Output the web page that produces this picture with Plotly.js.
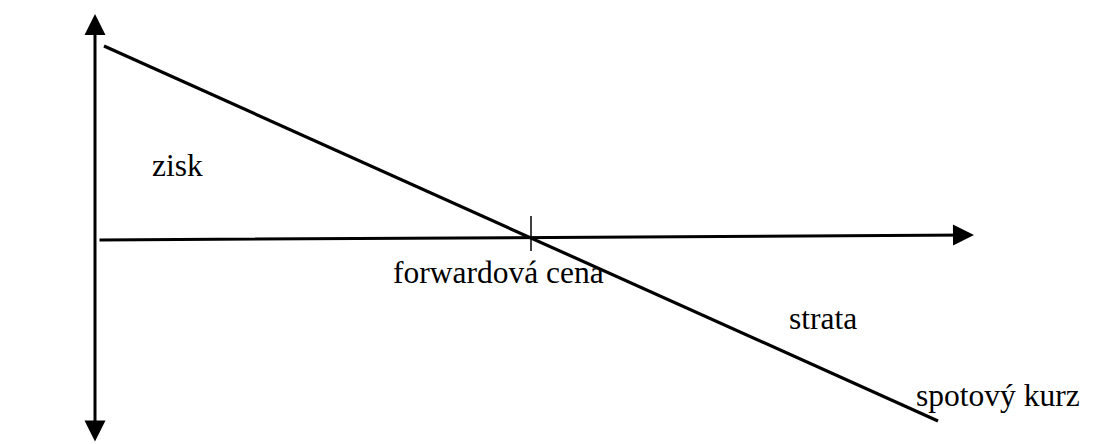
<!DOCTYPE html>
<html>
<head>
<meta charset="utf-8">
<script src="https://cdn.plot.ly/plotly-3.0.1.min.js"></script>
<style>
  html, body { margin: 0; padding: 0; background: #fff; }
  #graf { width: 1102px; height: 444px; }
</style>
</head>
<body>
<div id="graf"></div>
<script>
// payoff of a forward (short) position: origin = where the two axes cross
var spotKurz = [9, 843];
var vysledok = [194, -181];

// axes of the sketch (horizontal one is drawn slightly tilted, like the original)
var osXx = [3, 879];
var osXy = [0, 5];
var osYx = [0, 0];
var osYy = [226, -203];

// forward price tick on the spot axis
var forwardCena = 436;
var ciarkaY = [24, -11];

// labels
var popisky = ["zisk", "forwardová cena", "strata", "spotový kurz"];
var popiskyX = [56, 297, 693, 820];
var popiskyY = [75, -32, -78, -155];

var ciara = {color: "#000", width: 3.2};

var traces = [
  {x: spotKurz, y: vysledok, mode: "lines", line: ciara, hoverinfo: "skip"},
  {x: [forwardCena, forwardCena], y: ciarkaY, mode: "lines",
   line: {color: "#000", width: 1.5}, hoverinfo: "skip"}
];

var annotations = [
  // horizontal axis with arrow on the right
  {x: osXx[1], y: osXy[1], ax: osXx[0], ay: osXy[0], xref: "x", yref: "y",
   axref: "x", ayref: "y", text: "", showarrow: true, arrowhead: 2,
   arrowsize: 1.4, arrowwidth: 3, arrowcolor: "#000", standoff: 0},
  // vertical axis with arrows on both ends
  {x: osYx[0], y: osYy[0], ax: osYx[1], ay: osYy[1], xref: "x", yref: "y",
   axref: "x", ayref: "y", text: "", showarrow: true, arrowhead: 2,
   arrowside: "end+start", arrowsize: 1.4, arrowwidth: 3,
   arrowcolor: "#000", standoff: 0, startstandoff: 0}
];

var pismo = "'Times New Roman', 'Liberation Serif', serif";

popisky.forEach(function(t, i) {
  annotations.push({x: popiskyX[i], y: popiskyY[i], xref: "x", yref: "y",
    text: t, showarrow: false, xanchor: "left", yanchor: "middle",
    borderpad: 0,
    font: {family: pismo, size: 31.5, color: "#000"}});
});

var layout = {
  width: 1102, height: 444,
  margin: {l: 0, r: 0, t: 0, b: 0},
  paper_bgcolor: "#fff", plot_bgcolor: "#fff",
  showlegend: false,
  font: {family: pismo},
  xaxis: {range: [-95, 1007], visible: false, fixedrange: true},
  yaxis: {range: [-204, 240], visible: false, fixedrange: true},
  annotations: annotations
};

Plotly.newPlot("graf", traces, layout, {displayModeBar: false, staticPlot: true});
</script>
</body>
</html>
